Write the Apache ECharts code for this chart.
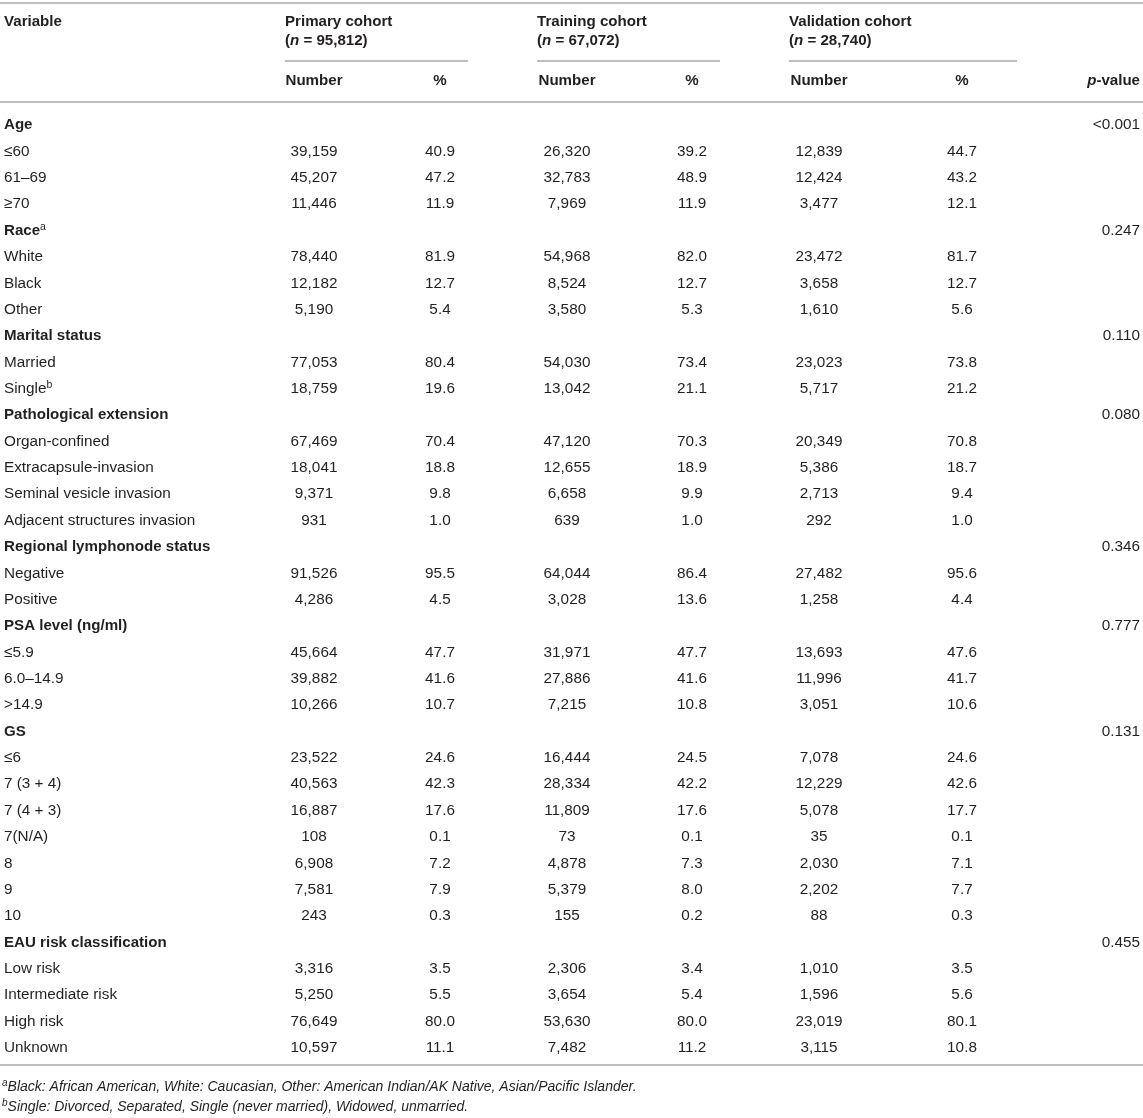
<!DOCTYPE html>
<html>
<head>
<meta charset="utf-8">
<script src="https://cdn.jsdelivr.net/npm/echarts@6/dist/echarts.min.js"></script>
<style>
  html, body { margin: 0; padding: 0; background: #fff; }
  #chart { width: 1143px; height: 1118px; }
</style>
</head>
<body>
<div id="chart"></div>
<script>
// table content
const variables = [
  'Age', '≤60', '61–69', '≥70',
  'Race', 'White', 'Black', 'Other',
  'Marital status', 'Married', 'Single',
  'Pathological extension', 'Organ-confined', 'Extracapsule-invasion', 'Seminal vesicle invasion', 'Adjacent structures invasion',
  'Regional lymphonode status', 'Negative', 'Positive',
  'PSA level (ng/ml)', '≤5.9', '6.0–14.9', '>14.9',
  'GS', '≤6', '7 (3 + 4)', '7 (4 + 3)', '7(N/A)', '8', '9', '10',
  'EAU risk classification', 'Low risk', 'Intermediate risk', 'High risk', 'Unknown'
];
const groupRows = [0, 4, 8, 11, 16, 19, 23, 31];
const groupP = ['<0.001', '0.247', '0.110', '0.080', '0.346', '0.777', '0.131', '0.455'];
const labelMarks = { 'Race': 'a', 'Single': 'b' };

const cohortNames = ['Primary cohort', 'Training cohort', 'Validation cohort'];
const cohortN = [95812, 67072, 28740];

const primaryN   = [null, 39159, 45207, 11446, null, 78440, 12182, 5190, null, 77053, 18759, null, 67469, 18041, 9371, 931, null, 91526, 4286, null, 45664, 39882, 10266, null, 23522, 40563, 16887, 108, 6908, 7581, 243, null, 3316, 5250, 76649, 10597];
const primaryPct = [null, 40.9, 47.2, 11.9, null, 81.9, 12.7, 5.4, null, 80.4, 19.6, null, 70.4, 18.8, 9.8, 1.0, null, 95.5, 4.5, null, 47.7, 41.6, 10.7, null, 24.6, 42.3, 17.6, 0.1, 7.2, 7.9, 0.3, null, 3.5, 5.5, 80.0, 11.1];
const trainN     = [null, 26320, 32783, 7969, null, 54968, 8524, 3580, null, 54030, 13042, null, 47120, 12655, 6658, 639, null, 64044, 3028, null, 31971, 27886, 7215, null, 16444, 28334, 11809, 73, 4878, 5379, 155, null, 2306, 3654, 53630, 7482];
const trainPct   = [null, 39.2, 48.9, 11.9, null, 82.0, 12.7, 5.3, null, 73.4, 21.1, null, 70.3, 18.9, 9.9, 1.0, null, 86.4, 13.6, null, 47.7, 41.6, 10.8, null, 24.5, 42.2, 17.6, 0.1, 7.3, 8.0, 0.2, null, 3.4, 5.4, 80.0, 11.2];
const validN     = [null, 12839, 12424, 3477, null, 23472, 3658, 1610, null, 23023, 5717, null, 20349, 5386, 2713, 292, null, 27482, 1258, null, 13693, 11996, 3051, null, 7078, 12229, 5078, 35, 2030, 2202, 88, null, 1010, 1596, 23019, 3115];
const validPct   = [null, 44.7, 43.2, 12.1, null, 81.7, 12.7, 5.6, null, 73.8, 21.2, null, 70.8, 18.7, 9.4, 1.0, null, 95.6, 4.4, null, 47.6, 41.7, 10.6, null, 24.6, 42.6, 17.7, 0.1, 7.1, 7.7, 0.3, null, 3.5, 5.6, 80.1, 10.8];

const footnotes = [
  ['a', 'Black: African American, White: Caucasian, Other: American Indian/AK Native, Asian/Pacific Islander.'],
  ['b', 'Single: Divorced, Separated, Single (never married), Widowed, unmarried.']
];

// layout
const FONT = '"Liberation Sans", Arial, Helvetica, sans-serif';
const INK = '#231f20';
const RULE = '#a8a8a8';
const SIZE = 15.3;
const BSIZE = 15.1;
const labelX = 4;
const pX = 1140;
const cohortLeft = [285, 537, 789];
const cohortRight = [468, 720, 1017];
const numX = [314, 567, 819];
const pctX = [440, 692, 962];
const columns = [
  [primaryN, numX[0], 'n'], [primaryPct, pctX[0], 'p'],
  [trainN, numX[1], 'n'], [trainPct, pctX[1], 'p'],
  [validN, numX[2], 'n'], [validPct, pctX[2], 'p']
];

const fmt = (v, kind) => v == null ? '' : (kind === 'n' ? v.toLocaleString('en-US') : v.toFixed(1));

const rich = {
  b: { font: 'bold ' + BSIZE + 'px ' + FONT, fill: INK, lineHeight: 18 },
  r: { font: SIZE + 'px ' + FONT, fill: INK, lineHeight: 18 },
  bi: { font: 'italic bold ' + BSIZE + 'px ' + FONT, fill: INK, lineHeight: 18 },
  sup: { font: '10.5px ' + FONT, fill: INK, lineHeight: 18, verticalAlign: 'top' },
  fi: { font: 'italic 14px ' + FONT, fill: INK, lineHeight: 17 },
  fsup: { font: 'italic 10px ' + FONT, fill: INK, lineHeight: 17, verticalAlign: 'top' }
};

function txt(x, y, text, align) {
  return {
    type: 'text',
    style: {
      x: x, y: y, text: text, rich: rich,
      align: align, textAlign: align,
      verticalAlign: 'middle', textVerticalAlign: 'middle',
      font: SIZE + 'px ' + FONT, fill: INK
    }
  };
}

function renderRow(params, api) {
  const i = api.value(0);
  const y = api.coord([0, i])[1];
  const isGroup = groupRows.indexOf(i) >= 0;
  const name = variables[i];
  let label = (isGroup ? '{b|' : '{r|') + name + '}';
  if (labelMarks[name]) label += '{sup|' + labelMarks[name] + '}';
  const children = [txt(api.coord([labelX, i])[0], y, label, 'left')];
  columns.forEach(function (c) {
    const s = fmt(c[0][i], c[2]);
    if (s) children.push(txt(api.coord([c[1], i])[0], y, '{r|' + s + '}', 'center'));
  });
  if (isGroup) {
    children.push(txt(api.coord([pX, i])[0], y, '{r|' + groupP[groupRows.indexOf(i)] + '}', 'right'));
  }
  return { type: 'group', children: children };
}

// header + rules
const graphics = [];
function hline(x1, x2, y) {
  graphics.push({ type: 'line', shape: { x1: x1, y1: y, x2: x2, y2: y }, style: { stroke: RULE, lineWidth: 1.5 }, silent: true });
}
function gtext(x, y, text, align) {
  graphics.push({
    type: 'text', x: 0, y: 0, silent: true,
    style: { x: x, y: y, text: text, rich: rich, align: align, textAlign: align,
             verticalAlign: 'middle', textVerticalAlign: 'middle', font: SIZE + 'px ' + FONT, fill: INK }
  });
}
hline(0, 1143, 3);
gtext(labelX, 22, '{b|Variable}', 'left');
cohortNames.forEach(function (name, k) {
  gtext(cohortLeft[k], 22, '{b|' + name + '}', 'left');
  gtext(cohortLeft[k], 41, '{b|(}{bi|n}{b| = ' + cohortN[k].toLocaleString('en-US') + ')}', 'left');
  hline(cohortLeft[k], cohortRight[k], 61);
  gtext(numX[k], 81, '{b|Number}', 'center');
  gtext(pctX[k], 81, '{b|%}', 'center');
});
gtext(pX, 81, '{bi|p}{b|-value}', 'right');
hline(0, 1143, 102);
hline(0, 1143, 1065);
footnotes.forEach(function (f, k) {
  gtext(2, 1087 + k * 20, '{fsup|' + f[0] + '}{fi|' + f[1] + '}', 'left');
});

const chart = echarts.init(document.getElementById('chart'));
chart.setOption({
  animation: false,
  backgroundColor: '#ffffff',
  grid: { left: 0, right: 0, top: 112, bottom: 57 },
  xAxis: { type: 'value', min: 0, max: 1143, show: false },
  yAxis: { type: 'category', data: variables.map(function (v, i) { return i; }), inverse: true, show: false },
  graphic: graphics,
  series: [{
    type: 'custom',
    renderItem: renderRow,
    data: variables.map(function (v, i) { return [i]; }),
    encode: { y: 0 },
    silent: true
  }]
});
</script>
</body>
</html>
